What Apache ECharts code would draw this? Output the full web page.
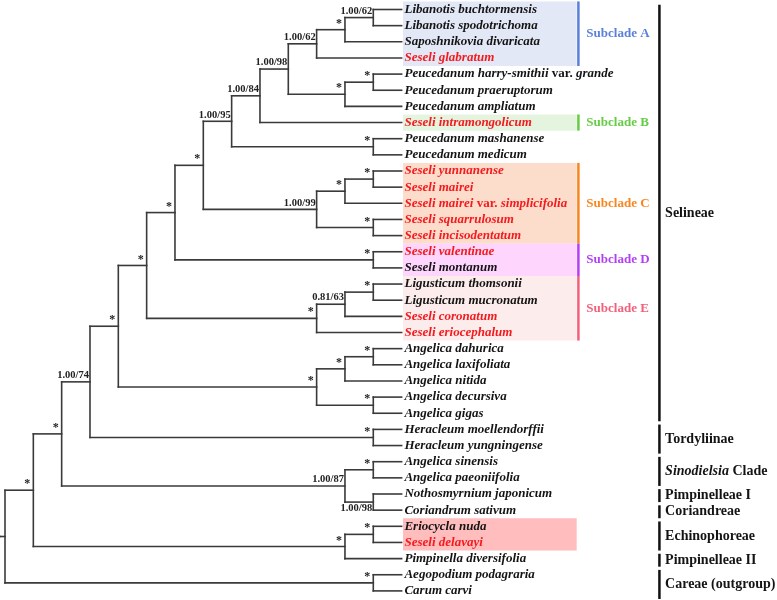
<!DOCTYPE html>
<html><head><meta charset="utf-8">
<script src="https://cdn.jsdelivr.net/npm/echarts@6/dist/echarts.min.js"></script>
<style>html,body{margin:0;padding:0;background:#fff}#c{width:777px;height:600px}</style>
</head><body><div id="c"></div>
<script>
// ---------------- DATA ----------------
const taxa = [
 'Libanotis buchtormensis','Libanotis spodotrichoma','Saposhnikovia divaricata','Seseli glabratum',
 'Peucedanum harry-smithii var. grande','Peucedanum praeruptorum','Peucedanum ampliatum','Seseli intramongolicum',
 'Peucedanum mashanense','Peucedanum medicum','Seseli yunnanense','Seseli mairei','Seseli mairei var. simplicifolia',
 'Seseli squarrulosum','Seseli incisodentatum','Seseli valentinae','Seseli montanum','Ligusticum thomsonii',
 'Ligusticum mucronatum','Seseli coronatum','Seseli eriocephalum','Angelica dahurica','Angelica laxifoliata',
 'Angelica nitida','Angelica decursiva','Angelica gigas','Heracleum moellendorffii','Heracleum yungningense',
 'Angelica sinensis','Angelica paeoniifolia','Nothosmyrnium japonicum','Coriandrum sativum','Eriocycla nuda',
 'Seseli delavayi','Pimpinella diversifolia','Aegopodium podagraria','Carum carvi'
];
const highlightedTaxa = [3,7,10,11,12,13,14,15,19,20,33];

// topology (leaf indices) with support values "PP/BS" ('*' = fully supported)
const cladeA   = '(((0,1)1.00/62,2)*,3)1.00/62';
const cladePeu = '((4,5)*,6)*';
const cladeC   = '(((10,11)*,12)*,(13,14)*)1.00/99';
const cladeD   = '(15,16)*';
const cladeE   = '(((17,18)*,19)0.81/63,20)*';
const cladeAng = '(((21,22)*,23)*,(24,25)*)*';
const cladeHer = '(26,27)*';
const cladeSin = '((28,29)*,(30,31)1.00/98)1.00/87';
const cladeEch = '((32,33)*,34)*';
const cladeOut = '(35,36)*';
const newick =
 '((((((((((((' + cladeA + ',' + cladePeu + ')1.00/98,7)1.00/84,(8,9)*)1.00/95,' + cladeC + ')*,' +
 cladeD + ')*,' + cladeE + ')*,' + cladeAng + ')*,' + cladeHer + ')1.00/74,' + cladeSin + ')*,' +
 cladeEch + ')*,' + cladeOut + ')';
const supportBelowClades = [[30,31]];

const subcladeNames  = ['Subclade A','Subclade B','Subclade C','Subclade D','Subclade E'];
const subcladeRanges = [[0,3],[7,7],[10,14],[15,16],[17,20]];
const tribeNames  = ['Selineae','Tordyliinae','{it|Sinodielsia} Clade','Pimpinelleae I','Coriandreae','Echinophoreae','Pimpinelleae II','Careae (outgroup)'];
const tribeRanges = [[0,25],[26,27],[28,29],[30,30],[31,31],[32,33],[34,34],[35,36]];
const shadedRanges = [[32,33]];

// ---------------- STYLE ----------------
const subcladeColors = ['#5b80da','#66cc44','#f7861f','#b23ef5','#f2607a'];
const subcladeFills  = ['#e3e8f6','#e5f4df','#fcdccb','#fdd5fd','#fdecec'];
const shadeFill = '#ffbdbd';
const RED = '#f51a1e', INK = '#141414', LINE = '#3a3a3a';
const SERIF = '"Liberation Serif","Times New Roman",serif';
const L = { tip:14, labelGap:0.1, boxL:14.05, boxR:20.18, subBar:20.24, subText:20.52, grpBar:23.1, grpText:23.3 };

// ---------------- TREE LAYOUT ----------------
function parseNewick(s){
  let i = 0;
  function node(){
    if (s[i] === '('){
      i++; const ch = [node()];
      while (s[i] === ','){ i++; ch.push(node()); }
      i++;
      let lab = ''; while (i < s.length && !',)'.includes(s[i])) lab += s[i++];
      return {children: ch, label: lab};
    }
    let t = ''; while (i < s.length && !',)'.includes(s[i])) t += s[i++];
    return {leaf: +t};
  }
  return node();
}
const root = parseNewick(newick);
function layout(n){
  if (n.children === undefined){ n.level = L.tip; n.y = n.leaf; n.lo = n.leaf; n.hi = n.leaf; return; }
  n.children.forEach(layout);
  n.level = Math.min(...n.children.map(c => c.level)) - 1;
  n.y = (n.children[0].y + n.children[n.children.length-1].y) / 2;
  n.lo = Math.min(...n.children.map(c => c.lo)); n.hi = Math.max(...n.children.map(c => c.hi));
}
layout(root);
const segments = [], supports = [];
function walk(n){
  if (!n.children) return;
  segments.push([n.level, n.children[0].y, n.level, n.children[n.children.length-1].y]);
  n.children.forEach(c => {
    segments.push([n.level, c.y, c.level, c.y]);
    if (c.children && c.label){
      const below = supportBelowClades.some(r => r[0] === c.lo && r[1] === c.hi) ? 1 : 0;
      supports.push([c.level, c.y, supports.length, below]);
    }
    walk(c);
  });
}
walk(root);
const supportLabels = [];
(function collect(n){ if (!n.children) return; n.children.forEach(c => { if (c.children && c.label) supportLabels.push(c.label); collect(c); }); })(root);
segments.push([-5/28.33, root.y, root.level, root.y]);

// ---------------- CHART ----------------
const chart = echarts.init(document.getElementById('c'), null, {renderer:'canvas'});
const leafData = taxa.map((t, i) => [L.tip + L.labelGap, i, i]);

function taxonRich(i){
  const red = highlightedTaxa.includes(i);
  const k = red ? 'R' : 'K';
  const parts = taxa[i].split(' var. ');
  if (parts.length === 2) return '{i' + k + '|' + parts[0] + '}{n' + k + '| var. }{i' + k + '|' + parts[1] + '}';
  return '{i' + k + '|' + parts[0] + '}';
}
const baseFont = {fontFamily: SERIF, fontWeight: 'bold', fontSize: 13};
const rich = {
  iR: Object.assign({fill: RED, fontStyle: 'italic'}, baseFont),
  nR: Object.assign({fill: RED, fontStyle: 'normal'}, baseFont),
  iK: Object.assign({fill: INK, fontStyle: 'italic'}, baseFont),
  nK: Object.assign({fill: INK, fontStyle: 'normal'}, baseFont)
};

chart.setOption({
  animation: false,
  grid: {left: 0, right: 0, top: 0, bottom: 0},
  xAxis: {type: 'value', min: -5/28.33, max: (777-5)/28.33, show: false},
  yAxis: {type: 'value', inverse: true, min: -9.5/16.15, max: (600-9.5)/16.15, show: false},
  series: [
    { // subclade shaded boxes
      type: 'custom', silent: true, z: 1,
      data: subcladeRanges.map((r, k) => [r[0], r[1], k, 0]).concat(shadedRanges.map((r) => [r[0], r[1], -1, 0])),
      encode: {y: [0, 1]},
      renderItem: (p, api) => {
        const k = api.value(2);
        const a = api.coord([L.boxL, api.value(0) - 0.5]), b = api.coord([L.boxR, api.value(1) + 0.5]);
        const children = [{type: 'rect', shape: {x: a[0], y: a[1], width: b[0]-a[0], height: b[1]-a[1]}, style: {fill: k >= 0 ? subcladeFills[k] : shadeFill}}];
        if (k >= 0){
          const c1 = api.coord([L.subBar, api.value(0) - 0.5]), c2 = api.coord([L.subBar, api.value(1) + 0.5]);
          children.push({type: 'line', shape: {x1: c1[0], y1: c1[1], x2: c2[0], y2: c2[1]}, style: {stroke: subcladeColors[k], lineWidth: 2.5}});
          const t = api.coord([L.subText, (api.value(0) + api.value(1)) / 2]);
          children.push({type: 'text', x: t[0], y: t[1], style: {text: subcladeNames[k], fill: subcladeColors[k], fontFamily: SERIF, fontWeight: 'bold', fontSize: 13, align: 'left', verticalAlign: 'middle'}});
        }
        return {type: 'group', children};
      }
    },
    { // tribe bars and labels
      type: 'custom', silent: true, z: 2,
      data: tribeRanges.map((r, k) => [r[0], r[1], k]),
      encode: {y: [0, 1]},
      renderItem: (p, api) => {
        const k = api.value(2);
        const c1 = api.coord([L.grpBar, api.value(0) - 0.3]), c2 = api.coord([L.grpBar, api.value(1) + 0.5]);
        const t = api.coord([L.grpText, (api.value(0) + api.value(1)) / 2 + 0.1]);
        return {type: 'group', children: [
          {type: 'line', shape: {x1: c1[0], y1: c1[1], x2: c2[0], y2: c2[1]}, style: {stroke: '#111', lineWidth: 2.5}},
          {type: 'text', x: t[0], y: t[1], style: {text: tribeNames[k], fill: INK, fontFamily: SERIF, fontWeight: 'bold', fontSize: 14, align: 'left', verticalAlign: 'middle',
            rich: {it: {fill: INK, fontFamily: SERIF, fontWeight: 'bold', fontSize: 14, fontStyle: 'italic'}}}}
        ]};
      }
    },
    { // tree branches
      type: 'custom', silent: true, z: 3,
      data: segments,
      encode: {x: [0, 2], y: [1, 3]},
      renderItem: (p, api) => {
        const a = api.coord([api.value(0), api.value(1)]), b = api.coord([api.value(2), api.value(3)]);
        return {type: 'line', shape: {x1: a[0], y1: a[1], x2: b[0], y2: b[1]}, style: {stroke: LINE, lineWidth: 1.6, lineCap: 'square'}};
      }
    },
    { // support values
      type: 'custom', silent: true, z: 4,
      data: supports,
      encode: {x: 0, y: 1},
      renderItem: (p, api) => {
        const a = api.coord([api.value(0), api.value(1)]);
        const below = api.value(3) === 1;
        const txt = supportLabels[api.value(2)];
        const star = txt === '*';
        return {type: 'text', x: a[0] - (star ? 3 : 1), y: below ? a[1] + 1 : a[1] - (star ? 0 : 1),
          style: {text: txt, fill: '#222', fontFamily: SERIF, fontWeight: 'bold', fontSize: star ? 12 : 10.5, align: 'right', verticalAlign: below ? 'top' : 'bottom'}};
      }
    },
    { // taxon labels
      type: 'custom', silent: true, z: 4,
      data: leafData,
      encode: {x: 0, y: 1},
      renderItem: (p, api) => {
        const a = api.coord([api.value(0), api.value(1)]);
        const i = api.value(2);
        return {type: 'text', x: a[0], y: a[1], style: {text: taxonRich(i), rich, fontFamily: SERIF, fontWeight: 'bold', fontSize: 13, align: 'left', verticalAlign: 'middle'}};
      }
    }
  ]
});
</script></body></html>
